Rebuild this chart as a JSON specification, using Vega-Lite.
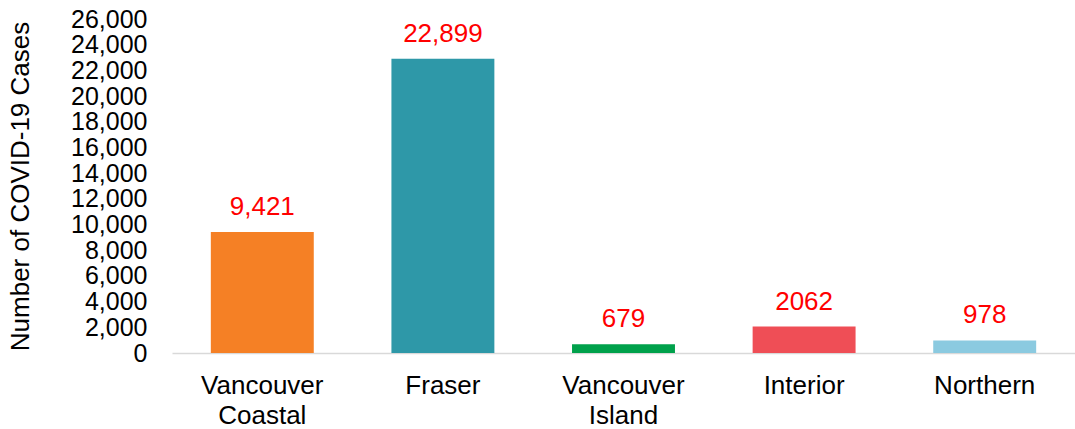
{
  "$schema": "https://vega.github.io/schema/vega-lite/v6.json",
  "width": 903,
  "height": 334,
  "autosize": "none",
  "padding": {"left": 172, "top": 19, "right": 0, "bottom": 76},
  "background": "white",
  "config": {
    "view": {"stroke": null},
    "font": "Liberation Sans"
  },
  "data": {
    "values": [
      {"region": "Vancouver Coastal", "cases": 9421, "label": "9,421", "color": "#F58025"},
      {"region": "Fraser", "cases": 22899, "label": "22,899", "color": "#2E98A8"},
      {"region": "Vancouver Island", "cases": 679, "label": "679", "color": "#00A14B"},
      {"region": "Interior", "cases": 2062, "label": "2062", "color": "#EF4E56"},
      {"region": "Northern", "cases": 978, "label": "978", "color": "#8BCAE0"}
    ]
  },
  "encoding": {
    "x": {
      "field": "region",
      "type": "nominal",
      "sort": null,
      "scale": {"paddingInner": 0.43, "paddingOuter": 0.215},
      "axis": {
        "title": null,
        "labelAngle": 0,
        "labelExpr": "split(datum.label, ' ')",
        "labelFont": "Liberation Sans",
        "labelFontSize": 26,
        "labelColor": "#000000",
        "labelBaseline": "top",
        "labelPadding": 19,
        "labelLineHeight": 30,
        "ticks": false,
        "tickSize": 0,
        "domainColor": "#D9D9D9",
        "domainWidth": 1.5,
        "grid": false
      }
    },
    "y": {
      "field": "cases",
      "type": "quantitative",
      "scale": {"domain": [0, 26000], "nice": false},
      "axis": {
        "title": "Number of COVID-19 Cases",
        "titleFont": "Liberation Sans",
        "titleFontSize": 26,
        "titleFontWeight": "normal",
        "titleColor": "#000000",
        "titleX": -152,
        "titleY": 167,
        "titleAngle": -90,
        "titleAlign": "center",
        "titleBaseline": "middle",
        "values": [0, 2000, 4000, 6000, 8000, 10000, 12000, 14000, 16000, 18000, 20000, 22000, 24000, 26000],
        "format": ",d",
        "labelFont": "Liberation Sans",
        "labelFontSize": 25,
        "labelColor": "#000000",
        "labelPadding": 25,
        "labelOverlap": false,
        "labelFlush": false,
        "ticks": false,
        "tickSize": 0,
        "domain": false,
        "grid": false
      }
    }
  },
  "layer": [
    {
      "mark": {"type": "bar"},
      "encoding": {
        "color": {"field": "color", "type": "nominal", "scale": null, "legend": null}
      }
    },
    {
      "mark": {"type": "text", "color": "#FF0000", "font": "Liberation Sans", "fontSize": 26, "baseline": "alphabetic", "dy": -17},
      "encoding": {
        "text": {"field": "label", "type": "nominal"}
      }
    }
  ]
}
